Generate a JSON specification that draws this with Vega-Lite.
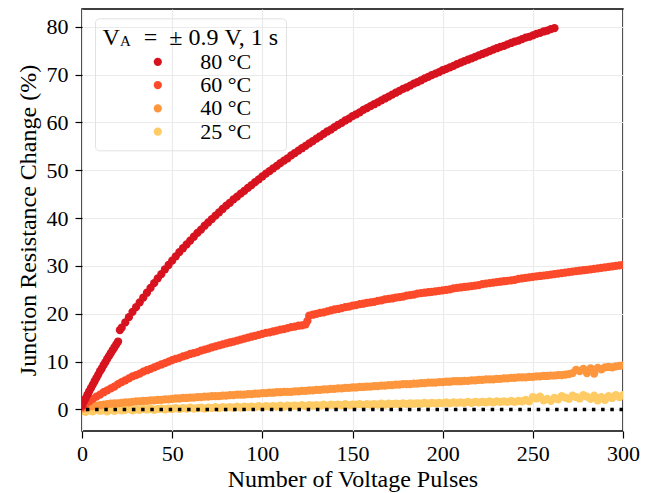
{
  "$schema": "https://vega.github.io/schema/vega-lite/v6.json",
  "width": 541,
  "height": 422,
  "autosize": {"type": "none"},
  "padding": {"left": 82, "top": 9, "right": 30, "bottom": 62},
  "background": "white",
  "config": {
    "font": "Liberation Serif",
    "view": {"stroke": "black", "strokeWidth": 1.5},
    "axis": {
      "domain": false,
      "grid": true,
      "gridColor": "#ebebeb",
      "gridWidth": 1.2,
      "tickColor": "black",
      "tickSize": 7,
      "tickWidth": 1.2,
      "labelFlush": false,
      "labelOverlap": false
    }
  },
  "datasets": {
    "pulses": [
      {"n":0,"a":0.8,"b":0.5,"c":0.2,"d":-0.3},
      {"n":1,"a":1.6},{"n":3,"a":3.1},{"n":5,"a":4.5},{"n":7,"a":5.9},{"n":9,"a":7.3},{"n":11,"a":8.6},{"n":13,"a":9.9},{"n":15,"a":11.2},{"n":17,"a":12.4},{"n":19,"a":13.6},{"n":21,"a":16.6},{"n":125,"b":18.5},
      {"n":2,"a":2.3,"b":1.1,"c":0.4,"d":-0.5},
      {"n":4,"a":3.8,"b":1.7,"c":0.6,"d":-0.2},
      {"n":6,"a":5.2,"b":2.2,"c":0.7,"d":-0.4},
      {"n":8,"a":6.6,"b":2.7,"c":0.8,"d":-0.1},
      {"n":10,"a":8.0,"b":3.1,"c":0.9,"d":-0.3},
      {"n":12,"a":9.3,"b":3.6,"c":1.0,"d":-0.2},
      {"n":14,"a":10.6,"b":4.0,"c":1.1,"d":-0.4},
      {"n":16,"a":11.8,"b":4.4,"c":1.2,"d":-0.1},
      {"n":18,"a":13.0,"b":4.8,"c":1.3,"d":-0.3},
      {"n":20,"a":14.2,"b":5.3,"c":1.3,"d":0.0},
      {"n":22,"a":17.1,"b":5.7,"c":1.4,"d":-0.2},
      {"n":24,"a":18.2,"b":6.1,"c":1.5,"d":-0.1},
      {"n":26,"a":19.3,"b":6.5,"c":1.5,"d":0.1},
      {"n":28,"a":20.4,"b":6.9,"c":1.6,"d":-0.2},
      {"n":30,"a":21.4,"b":7.2,"c":1.7,"d":0.0},
      {"n":32,"a":22.4,"b":7.5,"c":1.7,"d":-0.1},
      {"n":34,"a":23.4,"b":7.9,"c":1.8,"d":0.1},
      {"n":36,"a":24.4,"b":8.2,"c":1.8,"d":0.0},
      {"n":38,"a":25.4,"b":8.5,"c":1.9,"d":0.2},
      {"n":40,"a":26.4,"b":8.8,"c":1.9,"d":-0.1},
      {"n":42,"a":27.4,"b":9.1,"c":2.0,"d":0.1},
      {"n":44,"a":28.3,"b":9.4,"c":2.0,"d":0.2},
      {"n":46,"a":29.3,"b":9.7,"c":2.1,"d":0.0},
      {"n":48,"a":30.2,"b":10.0,"c":2.1,"d":0.2},
      {"n":50,"a":31.1,"b":10.3,"c":2.2,"d":0.1},
      {"n":52,"a":32.0,"b":10.6,"c":2.3,"d":0.3},
      {"n":54,"a":32.9,"b":10.8,"c":2.3,"d":0.1},
      {"n":56,"a":33.7,"b":11.1,"c":2.4,"d":0.3},
      {"n":58,"a":34.5,"b":11.3,"c":2.4,"d":0.2},
      {"n":60,"a":35.3,"b":11.6,"c":2.5,"d":0.4},
      {"n":62,"a":36.1,"b":11.8,"c":2.5,"d":0.2},
      {"n":64,"a":36.9,"b":12.0,"c":2.6,"d":0.3},
      {"n":66,"a":37.6,"b":12.3,"c":2.6,"d":0.4},
      {"n":68,"a":38.4,"b":12.5,"c":2.7,"d":0.2},
      {"n":70,"a":39.1,"b":12.7,"c":2.7,"d":0.4},
      {"n":72,"a":39.8,"b":13.0,"c":2.8,"d":0.3},
      {"n":74,"a":40.5,"b":13.2,"c":2.8,"d":0.5},
      {"n":76,"a":41.2,"b":13.4,"c":2.8,"d":0.3},
      {"n":78,"a":41.9,"b":13.6,"c":2.9,"d":0.5},
      {"n":80,"a":42.6,"b":13.8,"c":2.9,"d":0.4},
      {"n":82,"a":43.2,"b":14.0,"c":3.0,"d":0.5},
      {"n":84,"a":43.9,"b":14.2,"c":3.0,"d":0.4},
      {"n":86,"a":44.5,"b":14.4,"c":3.1,"d":0.6},
      {"n":88,"a":45.1,"b":14.6,"c":3.1,"d":0.4},
      {"n":90,"a":45.7,"b":14.8,"c":3.1,"d":0.6},
      {"n":92,"a":46.3,"b":15.0,"c":3.2,"d":0.5},
      {"n":94,"a":46.9,"b":15.2,"c":3.2,"d":0.6},
      {"n":96,"a":47.5,"b":15.4,"c":3.3,"d":0.5},
      {"n":98,"a":48.1,"b":15.6,"c":3.3,"d":0.7},
      {"n":100,"a":48.7,"b":15.8,"c":3.4,"d":0.5},
      {"n":102,"a":49.3,"b":16.0,"c":3.4,"d":0.7},
      {"n":104,"a":49.8,"b":16.1,"c":3.5,"d":0.6},
      {"n":106,"a":50.4,"b":16.3,"c":3.5,"d":0.7},
      {"n":108,"a":50.9,"b":16.5,"c":3.6,"d":0.6},
      {"n":110,"a":51.5,"b":16.7,"c":3.6,"d":0.8},
      {"n":112,"a":52.0,"b":16.8,"c":3.7,"d":0.6},
      {"n":114,"a":52.5,"b":17.0,"c":3.7,"d":0.8},
      {"n":116,"a":53.1,"b":17.2,"c":3.7,"d":0.7},
      {"n":118,"a":53.6,"b":17.3,"c":3.8,"d":0.8},
      {"n":120,"a":54.1,"b":17.5,"c":3.8,"d":0.7},
      {"n":122,"a":54.6,"b":17.6,"c":3.9,"d":0.9},
      {"n":124,"a":55.1,"b":17.8,"c":3.9,"d":0.7},
      {"n":126,"a":55.6,"b":19.6,"c":4.0,"d":0.9},
      {"n":128,"a":56.1,"b":19.8,"c":4.0,"d":0.8},
      {"n":130,"a":56.6,"b":20.0,"c":4.1,"d":0.9},
      {"n":132,"a":57.1,"b":20.2,"c":4.1,"d":0.8},
      {"n":134,"a":57.6,"b":20.3,"c":4.2,"d":1.0},
      {"n":136,"a":58.1,"b":20.5,"c":4.2,"d":0.8},
      {"n":138,"a":58.5,"b":20.7,"c":4.3,"d":1.0},
      {"n":140,"a":59.0,"b":20.9,"c":4.3,"d":0.9},
      {"n":142,"a":59.5,"b":21.0,"c":4.4,"d":1.0},
      {"n":144,"a":59.9,"b":21.2,"c":4.4,"d":0.9},
      {"n":146,"a":60.4,"b":21.4,"c":4.5,"d":1.1},
      {"n":148,"a":60.8,"b":21.5,"c":4.5,"d":0.9},
      {"n":150,"a":61.3,"b":21.7,"c":4.6,"d":1.0},
      {"n":152,"a":61.7,"b":21.8,"c":4.6,"d":1.0},
      {"n":154,"a":62.1,"b":22.0,"c":4.7,"d":1.1},
      {"n":156,"a":62.6,"b":22.1,"c":4.7,"d":0.9},
      {"n":158,"a":63.0,"b":22.3,"c":4.8,"d":1.1},
      {"n":160,"a":63.4,"b":22.4,"c":4.8,"d":1.0},
      {"n":162,"a":63.8,"b":22.5,"c":4.9,"d":1.1},
      {"n":164,"a":64.2,"b":22.7,"c":4.9,"d":1.0},
      {"n":166,"a":64.6,"b":22.8,"c":5.0,"d":1.2},
      {"n":168,"a":65.0,"b":23.0,"c":5.0,"d":1.0},
      {"n":170,"a":65.4,"b":23.1,"c":5.1,"d":1.2},
      {"n":172,"a":65.8,"b":23.2,"c":5.1,"d":1.1},
      {"n":174,"a":66.2,"b":23.4,"c":5.2,"d":1.2},
      {"n":176,"a":66.6,"b":23.5,"c":5.2,"d":1.1},
      {"n":178,"a":67.0,"b":23.6,"c":5.3,"d":1.3},
      {"n":180,"a":67.3,"b":23.8,"c":5.3,"d":1.1},
      {"n":182,"a":67.7,"b":23.9,"c":5.3,"d":1.3},
      {"n":184,"a":68.1,"b":24.0,"c":5.4,"d":1.2},
      {"n":186,"a":68.4,"b":24.2,"c":5.4,"d":1.3},
      {"n":188,"a":68.8,"b":24.3,"c":5.5,"d":1.2},
      {"n":190,"a":69.2,"b":24.4,"c":5.5,"d":1.4},
      {"n":192,"a":69.5,"b":24.5,"c":5.6,"d":1.2},
      {"n":194,"a":69.9,"b":24.6,"c":5.6,"d":1.4},
      {"n":196,"a":70.2,"b":24.7,"c":5.6,"d":1.3},
      {"n":198,"a":70.5,"b":24.8,"c":5.7,"d":1.4},
      {"n":200,"a":70.9,"b":24.9,"c":5.7,"d":1.3},
      {"n":202,"a":71.2,"b":25.0,"c":5.8,"d":1.5},
      {"n":204,"a":71.5,"b":25.1,"c":5.8,"d":1.3},
      {"n":206,"a":71.8,"b":25.3,"c":5.9,"d":1.5},
      {"n":208,"a":72.2,"b":25.4,"c":5.9,"d":1.4},
      {"n":210,"a":72.5,"b":25.5,"c":5.9,"d":1.5},
      {"n":212,"a":72.8,"b":25.6,"c":6.0,"d":1.4},
      {"n":214,"a":73.1,"b":25.7,"c":6.0,"d":1.6},
      {"n":216,"a":73.4,"b":25.8,"c":6.1,"d":1.4},
      {"n":218,"a":73.7,"b":25.9,"c":6.1,"d":1.6},
      {"n":220,"a":74.0,"b":26.0,"c":6.2,"d":1.5},
      {"n":222,"a":74.3,"b":26.2,"c":6.2,"d":1.6},
      {"n":224,"a":74.6,"b":26.3,"c":6.3,"d":1.5},
      {"n":226,"a":74.9,"b":26.4,"c":6.3,"d":1.7},
      {"n":228,"a":75.2,"b":26.5,"c":6.3,"d":1.5},
      {"n":230,"a":75.5,"b":26.6,"c":6.4,"d":1.7},
      {"n":232,"a":75.8,"b":26.7,"c":6.4,"d":1.6},
      {"n":234,"a":76.0,"b":26.8,"c":6.5,"d":1.7},
      {"n":236,"a":76.3,"b":26.9,"c":6.5,"d":1.6},
      {"n":238,"a":76.6,"b":27.0,"c":6.6,"d":1.8},
      {"n":240,"a":76.9,"b":27.1,"c":6.6,"d":1.6},
      {"n":242,"a":77.1,"b":27.3,"c":6.7,"d":1.8},
      {"n":244,"a":77.4,"b":27.4,"c":6.7,"d":1.7},
      {"n":246,"a":77.7,"b":27.5,"c":6.7,"d":2.0},
      {"n":248,"a":77.9,"b":27.6,"c":6.8,"d":1.7},
      {"n":250,"a":78.2,"b":27.7,"c":6.8,"d":2.6},
      {"n":252,"a":78.5,"b":27.8,"c":6.9,"d":2.3},
      {"n":254,"a":78.7,"b":27.9,"c":6.9,"d":2.7},
      {"n":256,"a":79.0,"b":28.0,"c":7.0,"d":1.9},
      {"n":258,"a":79.2,"b":28.1,"c":7.0,"d":2.2},
      {"n":260,"a":79.5,"b":28.2,"c":7.1,"d":1.8},
      {"n":262,"a":79.7,"b":28.3,"c":7.1,"d":2.4},
      {"n":264,"b":28.4,"c":7.2,"d":2.1},
      {"n":266,"b":28.5,"c":7.2,"d":2.8},
      {"n":268,"b":28.6,"c":7.3,"d":2.5},
      {"n":270,"b":28.7,"c":7.4,"d":2.2},
      {"n":272,"b":28.8,"c":7.6,"d":2.9},
      {"n":274,"b":28.9,"c":8.3,"d":2.6},
      {"n":276,"b":29.0,"c":8.0,"d":2.3},
      {"n":278,"b":29.1,"c":8.5,"d":3.0},
      {"n":280,"b":29.2,"c":7.6,"d":2.7},
      {"n":282,"b":29.3,"c":8.6,"d":2.2},
      {"n":284,"b":29.4,"c":7.5,"d":2.9},
      {"n":286,"b":29.5,"c":8.7,"d":1.9},
      {"n":288,"b":29.6,"c":8.4,"d":2.6},
      {"n":290,"b":29.7,"c":8.8,"d":2.0},
      {"n":292,"b":29.8,"c":8.9,"d":2.8},
      {"n":294,"b":29.9,"c":8.8,"d":2.4},
      {"n":296,"b":30.0,"c":9.0,"d":3.0},
      {"n":298,"b":30.1,"c":9.1,"d":2.6},
      {"n":300,"b":30.2,"c":9.2,"d":3.0}
    ]
  },
  "layer": [
    {
      "data": {"name": "pulses"},
      "transform": [
        {"fold": ["a", "b", "c", "d"], "as": ["s", "v"]},
        {"filter": "isValid(datum.v)"}
      ],
      "mark": {"type": "point", "filled": true, "size": 68, "opacity": 1, "clip": true},
      "encoding": {
        "x": {
          "field": "n", "type": "quantitative",
          "scale": {"domain": [0, 300], "nice": false, "zero": false},
          "axis": {
            "title": "Number of Voltage Pulses", "values": [0, 50, 100, 150, 200, 250, 300],
            "labelFont": "Liberation Serif", "labelFontSize": 22, "labelColor": "black", "labelPadding": 5,
            "titleFont": "Liberation Serif", "titleFontSize": 24, "titleFontWeight": "normal", "titleColor": "black", "titlePadding": 3
          }
        },
        "y": {
          "field": "v", "type": "quantitative",
          "scale": {"domain": [-4.5, 83.7], "nice": false, "zero": false},
          "axis": {
            "title": "Junction Resistance Change (%)", "values": [0, 10, 20, 30, 40, 50, 60, 70, 80],
            "labelFont": "Liberation Serif", "labelFontSize": 22, "labelColor": "black", "labelPadding": 7,
            "titleFont": "Liberation Serif", "titleFontSize": 24, "titleFontWeight": "normal", "titleColor": "black", "titlePadding": 6
          }
        },
        "color": {
          "field": "s", "type": "nominal",
          "scale": {"domain": ["a", "b", "c", "d"], "range": ["#d7131f", "#fc4b2a", "#fd963d", "#fecb65"]},
          "legend": {
            "orient": "none",
            "legendX": 13,
            "legendY": 9.3,
            "padding": 7.5,
            "strokeColor": "#e2e2e2",
            "cornerRadius": 4,
            "title": "V\u00a0\u00a0\u00a0\u00a0=\u00a0\u00a0±\u00a00.9\u00a0V,\u00a01\u00a0s",
            "titleFont": "Liberation Serif",
            "titleFontSize": 24,
            "titleFontWeight": "normal",
            "titleColor": "black",
            "titlePadding": 1,
            "labelFont": "Liberation Serif",
            "labelFontSize": 22,
            "labelColor": "black",
            "labelExpr": "datum.label == 'a' ? '80 °C' : datum.label == 'b' ? '60 °C' : datum.label == 'c' ? '40 °C' : '25 °C'",
            "symbolType": "circle",
            "symbolSize": 68,
            "symbolStrokeWidth": 0,
            "symbolOffset": 44.3,
            "labelOffset": 31.4,
            "rowPadding": 1.3
          }
        },
        "order": {"field": "s", "sort": "descending"}
      }
    },
    {
      "data": {"values": [{"z": 0}]},
      "mark": {"type": "rule", "color": "black", "strokeWidth": 3.5, "strokeDash": [3.5, 5.7]},
      "encoding": {"y": {"field": "z", "type": "quantitative"}}
    },
    {
      "data": {"values": [{"t": "A", "px": 21.1, "py": 76.0}]},
      "mark": {"type": "text", "align": "left", "baseline": "alphabetic", "fontSize": 15, "font": "Liberation Serif", "color": "black"},
      "encoding": {
        "x": {"field": "px", "type": "quantitative"},
        "y": {"field": "py", "type": "quantitative"},
        "text": {"field": "t"}
      }
    }
  ]
}
